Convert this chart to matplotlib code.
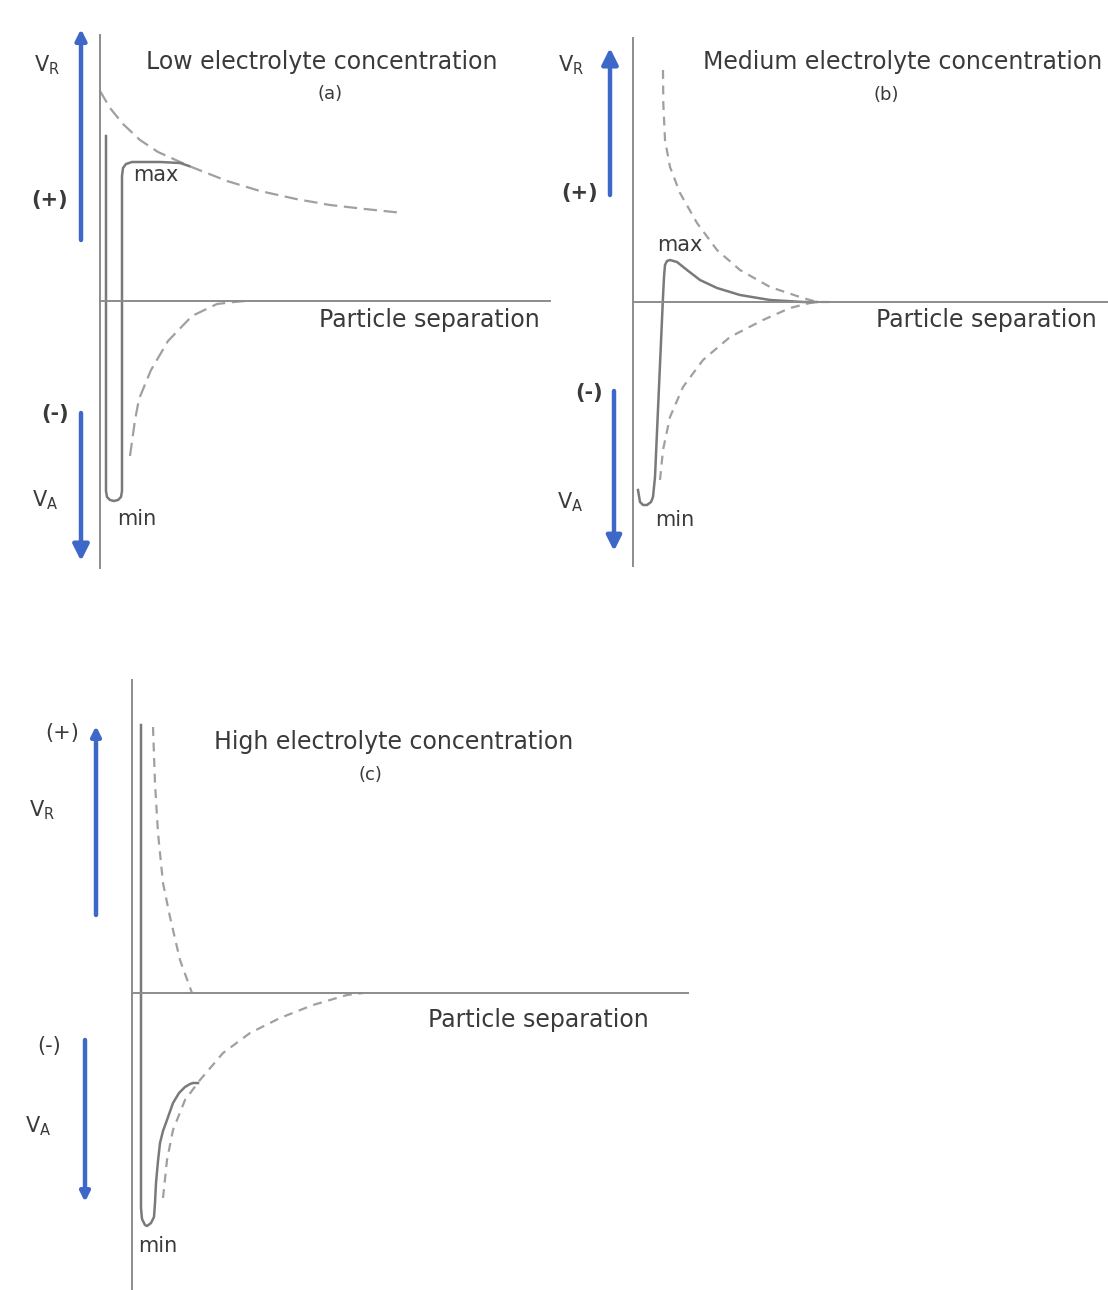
import matplotlib
matplotlib.use("Agg")
import matplotlib.pyplot as plt

plt.rcParams['font.family'] = ['DejaVu Sans']
plt.rcParams['mathtext.fontset'] = 'dejavusans'

W, H = 1108, 1290

# ---- panel (a): low electrolyte concentration ----
a_rep_x = [0, 10, 23, 40, 58, 89, 127, 160, 196, 230, 265, 303]
a_rep_y = [210, 193, 177, 161, 149, 135, 120, 110, 102, 96, 92, 88]
a_att_x = [30, 35, 39, 51, 68, 92, 117, 134, 145]
a_att_y = [-155, -119, -98, -69, -40, -15, -3, -1, 0]
a_net_x = [6, 6, 7, 10, 14, 18, 21, 22, 22, 23, 26, 32, 60, 80, 89]
a_net_y = [165, -190, -196, -199, -200, -199, -196, -190, 125, 133, 137, 139, 139, 138, 135]

# ---- panel (b): medium electrolyte concentration ----
b_rep_x = [30, 30.3, 32, 37, 47, 64, 84, 107, 137, 170, 184, 202]
b_rep_y = [232, 199, 162, 135, 109, 79, 52, 32, 15, 4, 0, 0]
b_att_x = [27, 30, 37, 50, 70, 97, 130, 157, 177, 184]
b_att_y = [-178, -148, -115, -85, -58, -35, -18, -6, -1, 0]
b_net_x = [5, 7, 10, 14, 18, 20, 22, 24, 26, 28, 30, 31, 32, 34, 37, 44, 54, 67, 84, 107, 137, 170, 184]
b_net_y = [-188, -200, -203, -203, -200, -195, -175, -130, -85, -40, 5, 25, 37, 41, 42, 40, 32, 22, 14, 7, 2, 0, 0]

# ---- panel (c): high electrolyte concentration ----
c_rep_x = [21, 23, 26, 31, 38, 48, 60]
c_rep_y = [266, 210, 160, 110, 76, 33, 0]
c_att_x = [31, 35, 41, 53, 68, 91, 118, 148, 181, 215, 231]
c_att_y = [-205, -167, -137, -107, -87, -60, -40, -25, -12, -2, 0]
c_net_x = [9, 9, 10, 13, 15, 19, 22, 23, 24, 26, 28, 31, 35, 41, 47, 53, 58, 61, 66]
c_net_y = [268, -215, -226, -232, -233, -230, -224, -210, -190, -168, -150, -138, -127, -110, -100, -94, -91, -90, -90]

titles = ["Low electrolyte concentration", "Medium electrolyte concentration",
          "High electrolyte concentration"]
tags = ["(a)", "(b)", "(c)"]
xlabel = "Particle separation"

blue = '#3d68c8'
ink = '#3a3a3a'
axis_col = '#8c8c8c'
net_col = '#7a7a7a'
dash_col = '#a0a0a0'

fig = plt.figure(figsize=(W / 100, H / 100), dpi=100)


def make_panel(l, t, r, b, ox, oy, vb, hb):
    ax = fig.add_axes([l / W, 1 - b / H, (r - l) / W, (b - t) / H])
    ax.set_xlim(l - ox, r - ox)
    ax.set_ylim(oy - b, oy - t)
    ax.patch.set_alpha(0)
    for s in ['top', 'right']:
        ax.spines[s].set_visible(False)
    ax.spines['left'].set_position(('data', 0))
    ax.spines['bottom'].set_position(('data', 0))
    ax.spines['left'].set_bounds(*vb)
    ax.spines['bottom'].set_bounds(*hb)
    for s in ['left', 'bottom']:
        ax.spines[s].set_color(axis_col)
        ax.spines[s].set_linewidth(1.4)
    ax.set_xticks([])
    ax.set_yticks([])
    return ax


def curves(ax, rx, ry, atx, aty, nx, ny, dashes=(4, 3)):
    ax.plot(rx, ry, color=dash_col, lw=1.6, dashes=dashes)
    ax.plot(atx, aty, color=dash_col, lw=1.6, dashes=dashes)
    ax.plot(nx, ny, color=net_col, lw=1.8, solid_joinstyle='round')


def arrow(ax, x, y0, y1, ms=22):
    ax.annotate('', xy=(x, y1), xytext=(x, y0),
                arrowprops=dict(arrowstyle='-|>', lw=3.2, color=blue,
                                mutation_scale=ms, shrinkA=0, shrinkB=0))


def label(ax, x, y, s, size=15, **kw):
    ax.text(x, y, s, fontsize=size, color=ink, ha='center', va='center', **kw)


VR = r'V$_\mathregular{R}$'
VA = r'V$_\mathregular{A}$'

# panel a
ax = make_panel(0, 20, 555, 580, 100, 301, (-267, 266), (0, 450))
curves(ax, a_rep_x, a_rep_y, a_att_x, a_att_y, a_net_x, a_net_y, dashes=(6, 3))
arrow(ax, -19, 61, 272, ms=16)
arrow(ax, -19, -112, -260, ms=24)
label(ax, -53, 236, VR)
label(ax, -50, 101, "(+)", weight='bold')
label(ax, -45, -113, "(-)", weight='bold')
label(ax, -55, -199, VA)
label(ax, 222, 239, titles[0], size=17)
label(ax, 230, 207, tags[0], size=13)
label(ax, 56, 126, "max")
label(ax, 37, -218, "min")
label(ax, 329, -19, xlabel, size=17)

# panel b
ax = make_panel(555, 20, 1108, 580, 633, 302, (-264, 264), (0, 475))
curves(ax, b_rep_x, b_rep_y, b_att_x, b_att_y, b_net_x, b_net_y)
arrow(ax, -23, 107, 254, ms=24)
arrow(ax, -19, -89, -249, ms=22)
label(ax, -62, 237, VR)
label(ax, -53, 109, "(+)", weight='bold')
label(ax, -44, -91, "(-)", weight='bold')
label(ax, -63, -200, VA)
ax.text(70, 240, titles[1], fontsize=17, color=ink, ha='left', va='center')
label(ax, 253, 207, tags[1], size=13)
label(ax, 47, 57, "max")
label(ax, 42, -218, "min")
label(ax, 353, -18, xlabel, size=17)

# panel c
ax = make_panel(0, 680, 700, 1290, 132, 993, (-297, 313), (0, 556))
curves(ax, c_rep_x, c_rep_y, c_att_x, c_att_y, c_net_x, c_net_y)
arrow(ax, -36, 78, 267, ms=14)
arrow(ax, -47, -47, -209, ms=14)
label(ax, -70, 260, "(+)")
label(ax, -90, 183, VR)
label(ax, -83, -53, "(-)")
label(ax, -94, -133, VA)
label(ax, 262, 251, titles[2], size=17)
label(ax, 238, 218, tags[2], size=13)
label(ax, 406, -27, xlabel, size=17)
label(ax, 26, -253, "min")

fig.savefig("out.png", dpi=100, facecolor='white')
